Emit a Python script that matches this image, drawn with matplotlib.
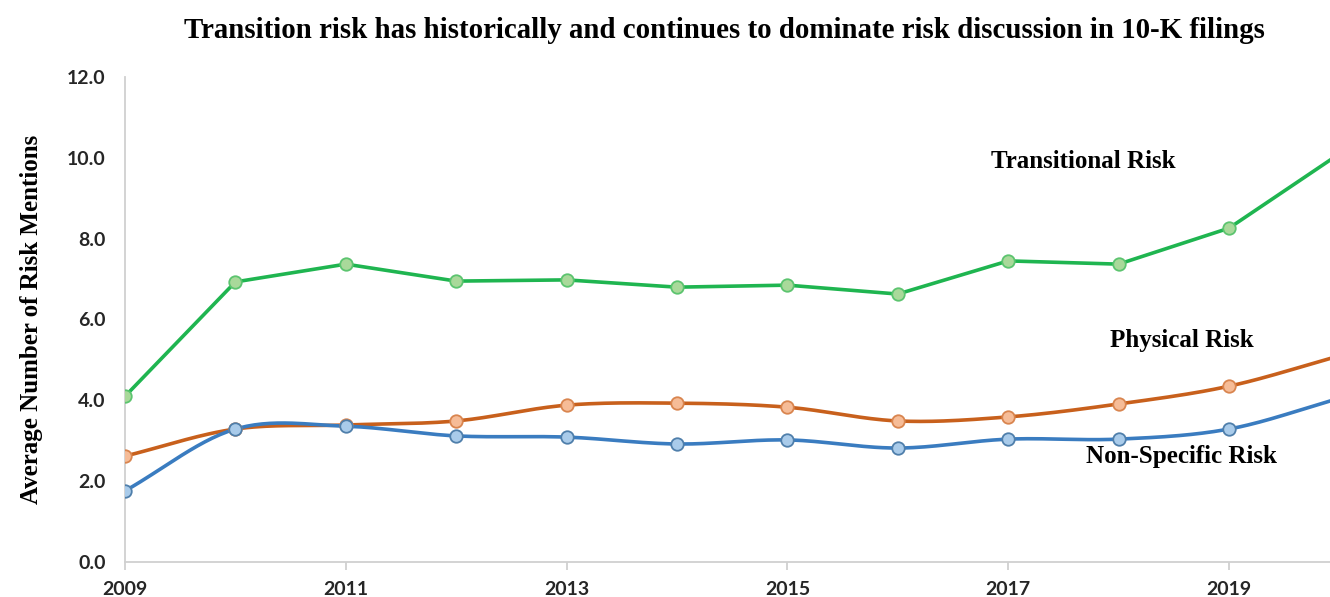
import numpy as np
import matplotlib
matplotlib.use("Agg")
import matplotlib.pyplot as plt

years = [2009, 2010, 2011, 2012, 2013, 2014, 2015, 2016, 2017, 2018, 2019, 2020]
transitional = [4.1, 6.93, 7.37, 6.95, 6.98, 6.80, 6.85, 6.63, 7.45, 7.37, 8.26, 10.1]
physical = [2.62, 3.29, 3.39, 3.49, 3.88, 3.93, 3.83, 3.49, 3.59, 3.91, 4.35, 5.1]
non_specific = [1.76, 3.29, 3.36, 3.12, 3.09, 2.92, 3.02, 2.82, 3.04, 3.04, 3.29, 4.05]


def smooth(x, y, n=30):
    # catmull-rom style curve through the points, like excel's smoothed line
    x = np.asarray(x, float)
    y = np.asarray(y, float)
    px = np.concatenate([[2 * x[0] - x[1]], x, [2 * x[-1] - x[-2]]])
    py = np.concatenate([[2 * y[0] - y[1]], y, [2 * y[-1] - y[-2]]])
    xs, ys = [], []
    t = np.linspace(0, 1, n)
    for i in range(1, len(px) - 2):
        for arr, out in ((px, xs), (py, ys)):
            p0, p1, p2, p3 = arr[i - 1], arr[i], arr[i + 1], arr[i + 2]
            out.extend(0.5 * ((2 * p1) + (-p0 + p2) * t
                              + (2 * p0 - 5 * p1 + 4 * p2 - p3) * t ** 2
                              + (-p0 + 3 * p1 - 3 * p2 + p3) * t ** 3))
    return xs, ys


fig = plt.figure(figsize=(13.3, 5.97), dpi=100)
ax = fig.add_axes([125 / 1330, 1 - 562 / 597, (1339.4 - 125) / 1330, (562 - 77) / 597])

green, green_fill = '#1fb550', '#a9d99a'
orange, orange_fill = '#c8601c', '#f6bc97'
blue, blue_fill = '#3a7cc0', '#a9cbea'

ax.plot(years, transitional, color=green, lw=2.6, zorder=3)
ax.plot(years, transitional, 'o', ms=9, mfc=green_fill, mec='#5cc46f', mew=1.3, zorder=4)

sx, sy = smooth(years, physical)
ax.plot(sx, sy, color=orange, lw=2.6, zorder=3)
ax.plot(years, physical, 'o', ms=9, mfc=orange_fill, mec='#d9854f', mew=1.3, zorder=4)

sx, sy = smooth(years, non_specific)
ax.plot(sx, sy, color=blue, lw=2.6, zorder=3)
ax.plot(years, non_specific, 'o', ms=9, mfc=blue_fill, mec='#4f7fab', mew=1.3, zorder=4)

ax.set_xlim(2009, 2020)
ax.set_ylim(0, 12)
ax.set_yticks(np.arange(0, 12.1, 2))
ax.set_yticklabels(['%.1f' % v for v in np.arange(0, 12.1, 2)])
ax.set_xticks(range(2009, 2020, 2))

for s in ['top', 'right']:
    ax.spines[s].set_visible(False)
for s in ['left', 'bottom']:
    ax.spines[s].set_color('#d0d0d0')
    ax.spines[s].set_linewidth(1.3)
ax.tick_params(axis='y', length=0, pad=14)
ax.tick_params(axis='x', length=6, color='#d0d0d0', width=1.3, pad=8)
for lab in ax.get_xticklabels() + ax.get_yticklabels():
    lab.set_fontfamily('Lato')
    lab.set_fontweight('bold')
    lab.set_fontsize(14)
    lab.set_color('#262626')

serif = 'Liberation Serif'
ax.set_ylabel('Average Number of Risk Mentions', fontfamily=serif, fontweight='bold',
              fontsize=18, labelpad=17)
fig.text(724 / 1330, 1 - 31 / 597,
         'Transition risk has historically and continues to dominate risk discussion in 10-K filings',
         ha='center', va='center', fontfamily=serif, fontweight='bold', fontsize=20.8)

ax.text(2017.68, 9.9, 'Transitional Risk', ha='center', va='center',
        fontfamily=serif, fontweight='bold', fontsize=18)
ax.text(2018.57, 5.49, 'Physical Risk', ha='center', va='center',
        fontfamily=serif, fontweight='bold', fontsize=18)
ax.text(2018.57, 2.6, 'Non-Specific Risk', ha='center', va='center',
        fontfamily=serif, fontweight='bold', fontsize=18)

fig.savefig('out.png', dpi=100)
